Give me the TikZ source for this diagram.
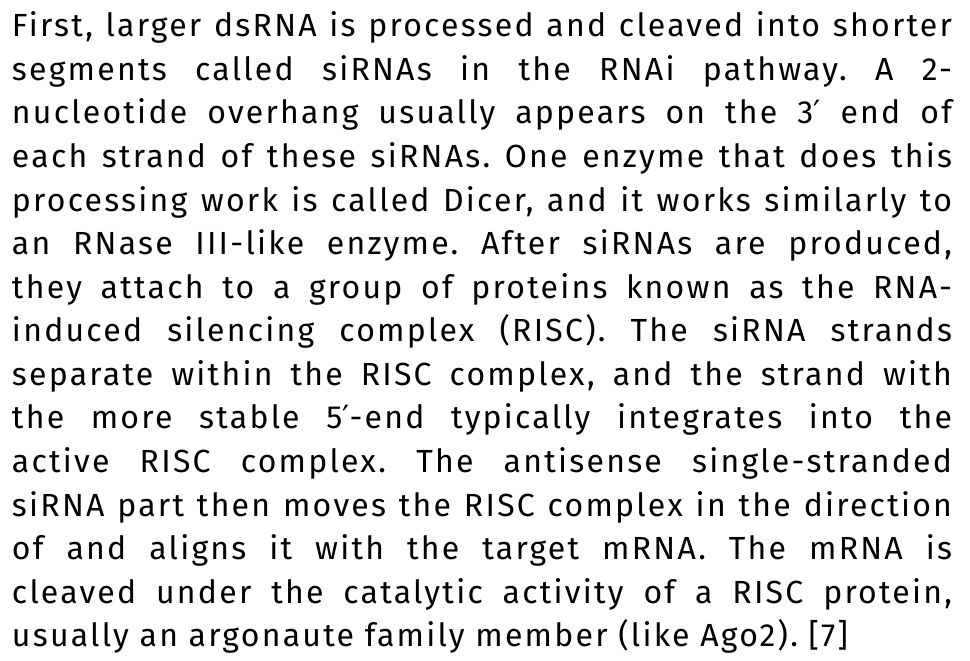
\documentclass[tikz,border=0pt]{standalone}
\usepackage{fontspec}
\setmainfont{Fira Sans}[LetterSpace=7]
\newfontfamily\primefont{DejaVu Sans}
\newcommand\prm{{\primefont ′}}
\frenchspacing
\begin{document}
\begin{tikzpicture}[x=1pt,y=1pt,
  txt/.style={anchor=base west,inner sep=0pt,outer sep=0pt,text=black,font=\fontsize{32}{36}\selectfont\frenchspacing}]
\useasboundingbox[fill=white] (0,0) rectangle (970,-661);
\def\W{940pt}
\node[txt] (l1) at (12,-36.7) {\makebox[\W][s]{First, larger dsRNA is processed and cleaved into shorter}};
\node[txt] (l2) at (12,-80.3) {\makebox[\W][s]{segments called siRNAs in the RNAi pathway. A 2-}};
\node[txt] (l3) at (12,-123.8) {\makebox[\W][s]{nucleotide overhang usually appears on the 3\prm{} end of}};
\node[txt] (l4) at (12,-167.4) {\makebox[\W][s]{each strand of these siRNAs. One enzyme that does this}};
\node[txt] (l5) at (12,-211.0) {\makebox[\W][s]{processing work is called Dicer, and it works similarly to}};
\node[txt] (l6) at (12,-254.5) {\makebox[\W][s]{an RNase III-like enzyme. After siRNAs are produced,}};
\node[txt] (l7) at (12,-298.1) {\makebox[\W][s]{they attach to a group of proteins known as the RNA-}};
\node[txt] (l8) at (12,-341.7) {\makebox[\W][s]{induced silencing complex (RISC). The siRNA strands}};
\node[txt] (l9) at (12,-385.3) {\makebox[\W][s]{separate within the RISC complex, and the strand with}};
\node[txt] (l10) at (12,-428.8) {\makebox[\W][s]{the more stable 5\prm-end typically integrates into the}};
\node[txt] (l11) at (12,-472.4) {\makebox[\W][s]{active RISC complex. The antisense single-stranded}};
\node[txt] (l12) at (12,-516.0) {\makebox[\W][s]{siRNA part then moves the RISC complex in the direction}};
\node[txt] (l13) at (12,-559.6) {\makebox[\W][s]{of and aligns it with the target mRNA. The mRNA is}};
\node[txt] (l14) at (12,-603.1) {\makebox[\W][s]{cleaved under the catalytic activity of a RISC protein,}};
\node[txt] (l15) at (12,-646.7) {usually an argonaute family member (like Ago2). [7]};
\end{tikzpicture}
\end{document}
